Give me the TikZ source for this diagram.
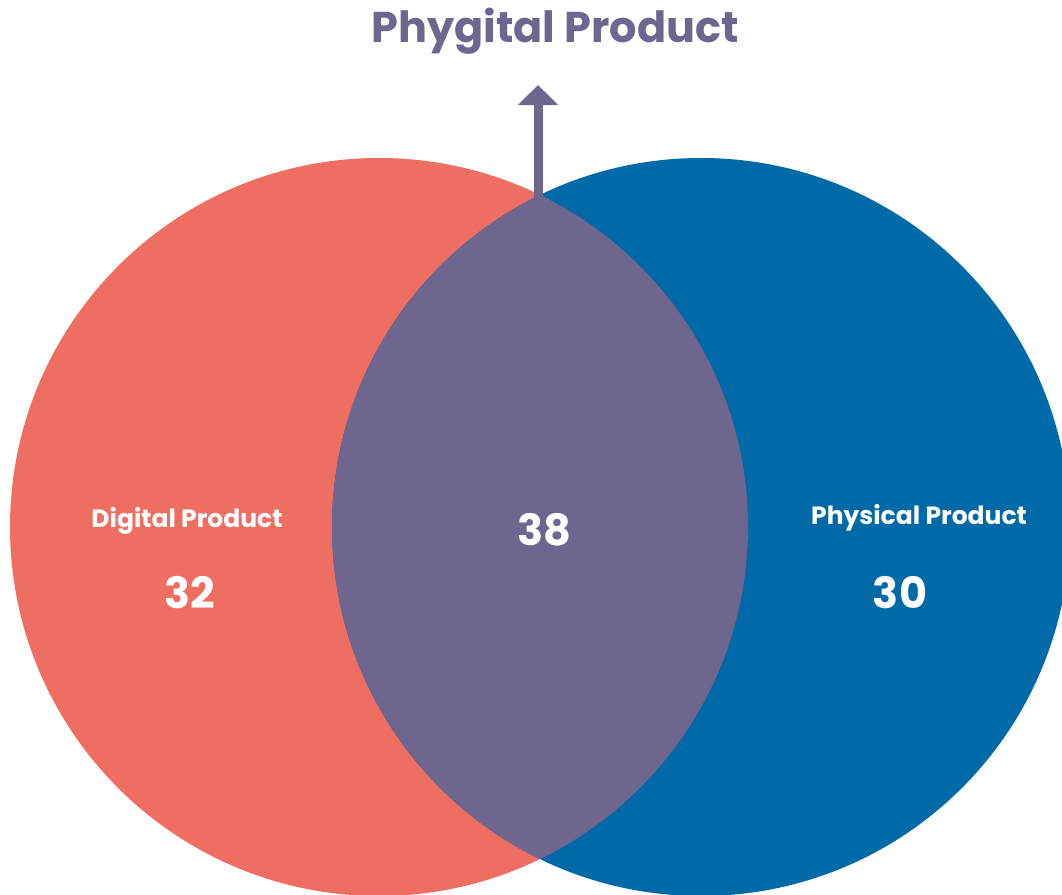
\documentclass[tikz,border=0pt]{standalone}
\usepackage{fontspec}
\setmainfont{Poppins}
\usepackage{tikz}
\usetikzlibrary{arrows.meta}

\definecolor{digital}{HTML}{EE6F62}
\definecolor{physical}{HTML}{0069A7}
\definecolor{phygital}{HTML}{6E668F}

\begin{document}
\begin{tikzpicture}[x=1pt,y=-1pt,
  label/.style={text=white,font=\bfseries\fontsize{25}{28}\selectfont},
  count/.style={text=white,font=\bfseries\fontsize{43}{46}\selectfont}]
\useasboundingbox (0,0) rectangle (1062,894);
\fill[digital] (379,527) circle (369);
\fill[physical] (701,527) circle (369);
\begin{scope}
\clip (379,527) circle (369);
\fill[phygital] (701,527) circle (369);
\end{scope}
\coordinate (top) at (538,205);
\coordinate (tip) at (538,85);
\node[text=phygital,font=\bfseries\fontsize{43}{46}\selectfont] (title) at (555,31) {Phygital Product};
\draw[phygital,line width=9pt,-{Triangle[width=39pt,length=20pt]}] (top) -- (tip);
\node[label] (dig) at (187,521) {Digital Product};
\node[count] (digN) at (190,593) {32};
\node[count] (both) at (544,530) {38};
\node[label] (phy) at (919,518) {Physical Product};
\node[count] (phyN) at (900,593) {30};
\end{tikzpicture}
\end{document}
